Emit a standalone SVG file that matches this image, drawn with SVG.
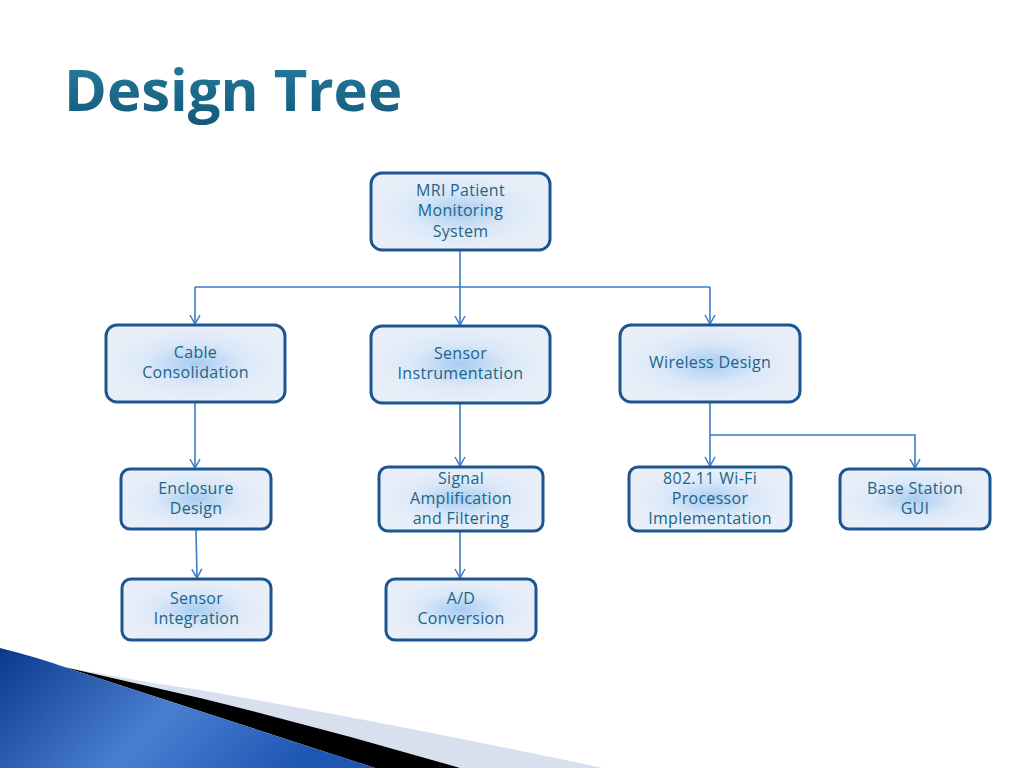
<svg xmlns="http://www.w3.org/2000/svg" width="1024" height="768" viewBox="0 0 1024 768">
  <defs>
    <radialGradient id="boxFill" cx="0.5" cy="0.5" r="0.5">
      <stop offset="0" stop-color="#a9cdf2"/>
      <stop offset="0.55" stop-color="#dbe8f8"/>
      <stop offset="1" stop-color="#e9eff9"/>
    </radialGradient>
    <linearGradient id="blueGrad" x1="0" y1="0" x2="1" y2="0.3">
      <stop offset="0" stop-color="#0a3a8c"/>
      <stop offset="0.55" stop-color="#4a7fd0"/>
      <stop offset="1" stop-color="#1e56b4"/>
    </linearGradient>
    <linearGradient id="titleGrad" x1="0" y1="0" x2="0" y2="1">
      <stop offset="0" stop-color="#2a80a2"/>
      <stop offset="1" stop-color="#115878"/>
    </linearGradient>
    <marker id="arrow" viewBox="0 0 12 12" refX="11" refY="6" markerWidth="12" markerHeight="12" markerUnits="userSpaceOnUse" orient="auto">
      <path d="M2 1 L11 6 L2 11" fill="none" stroke="#3a7cc8" stroke-width="1.5"/>
    </marker>
    <style>
      .box { fill: url(#boxFill); stroke: #1d5592; stroke-width: 3; }
      .lbl { font-family: "Open Sans", "DejaVu Sans", sans-serif; font-size: 16px; fill: #1d6585; text-anchor: middle; letter-spacing: 0.3px; }
      .conn { fill: none; stroke: #3a7cc8; stroke-width: 1.6; }
      .title { font-family: "Open Sans", "Noto Sans", sans-serif; font-weight: bold; font-size: 58px; fill: url(#titleGrad); }
    </style>
  </defs>

  <rect width="1024" height="768" fill="#ffffff"/>

  <!-- bottom decoration -->
  <path d="M55 665 Q130 680 200 690 Q400 725 603 768 L460 768 Z" fill="#d8e0f0"/>
  <path d="M55 665 Q130 682 200 698 Q330 730 460 768 L375 768 L67 668 Z" fill="#000000"/>
  <path d="M0 648 Q40 658 67 668 L375 768 L0 768 Z" fill="url(#blueGrad)"/>

  <text class="title" x="64" y="111">Design Tree</text>

  <g id="connectors">
    <path class="conn" d="M460 250 V287 M195 287 H710"/>
    <path class="conn" d="M195 287 V324" marker-end="url(#arrow)"/>
    <path class="conn" d="M460 287 V325" marker-end="url(#arrow)"/>
    <path class="conn" d="M710 287 V324" marker-end="url(#arrow)"/>
    <path class="conn" d="M195 402 V468" marker-end="url(#arrow)"/>
    <path class="conn" d="M460 403 V466" marker-end="url(#arrow)"/>
    <path class="conn" d="M710 402 V466" marker-end="url(#arrow)"/>
    <path class="conn" d="M710 435 H915 V468" marker-end="url(#arrow)"/>
    <path class="conn" d="M196 529 L197 578" marker-end="url(#arrow)"/>
    <path class="conn" d="M460 531 V578" marker-end="url(#arrow)"/>
  </g>

  <g id="root">
    <rect class="box" x="371" y="173" width="179" height="77" rx="11"/>
    <text class="lbl" x="460.5" y="196">MRI Patient</text>
    <text class="lbl" x="460.5" y="216">Monitoring</text>
    <text class="lbl" x="460.5" y="237">System</text>
  </g>

  <g id="cable">
    <rect class="box" x="106" y="325" width="179" height="77" rx="11"/>
    <text class="lbl" x="195.5" y="358">Cable</text>
    <text class="lbl" x="195.5" y="378">Consolidation</text>
  </g>

  <g id="sensor-instr">
    <rect class="box" x="371" y="326" width="179" height="77" rx="11"/>
    <text class="lbl" x="460.5" y="359">Sensor</text>
    <text class="lbl" x="460.5" y="379">Instrumentation</text>
  </g>

  <g id="wireless">
    <rect class="box" x="620" y="325" width="180" height="77" rx="11"/>
    <text class="lbl" x="710" y="368">Wireless Design</text>
  </g>

  <g id="enclosure">
    <rect class="box" x="121" y="469" width="150" height="60" rx="9"/>
    <text class="lbl" x="196" y="494">Enclosure</text>
    <text class="lbl" x="196" y="514">Design</text>
  </g>

  <g id="signal">
    <rect class="box" x="379" y="467" width="164" height="64" rx="9"/>
    <text class="lbl" x="461" y="484">Signal</text>
    <text class="lbl" x="461" y="504">Amplification</text>
    <text class="lbl" x="461" y="524">and Filtering</text>
  </g>

  <g id="wifi">
    <rect class="box" x="629" y="467" width="162" height="64" rx="9"/>
    <text class="lbl" x="710" y="484">802.11 Wi-Fi</text>
    <text class="lbl" x="710" y="504">Processor</text>
    <text class="lbl" x="710" y="524">Implementation</text>
  </g>

  <g id="basestation">
    <rect class="box" x="840" y="469" width="150" height="60" rx="9"/>
    <text class="lbl" x="915" y="494">Base Station</text>
    <text class="lbl" x="915" y="514">GUI</text>
  </g>

  <g id="sensor-integ">
    <rect class="box" x="122" y="579" width="149" height="61" rx="9"/>
    <text class="lbl" x="196.5" y="604">Sensor</text>
    <text class="lbl" x="196.5" y="624">Integration</text>
  </g>

  <g id="ad">
    <rect class="box" x="386" y="579" width="150" height="61" rx="9"/>
    <text class="lbl" x="461" y="604">A/D</text>
    <text class="lbl" x="461" y="624">Conversion</text>
  </g>
</svg>
